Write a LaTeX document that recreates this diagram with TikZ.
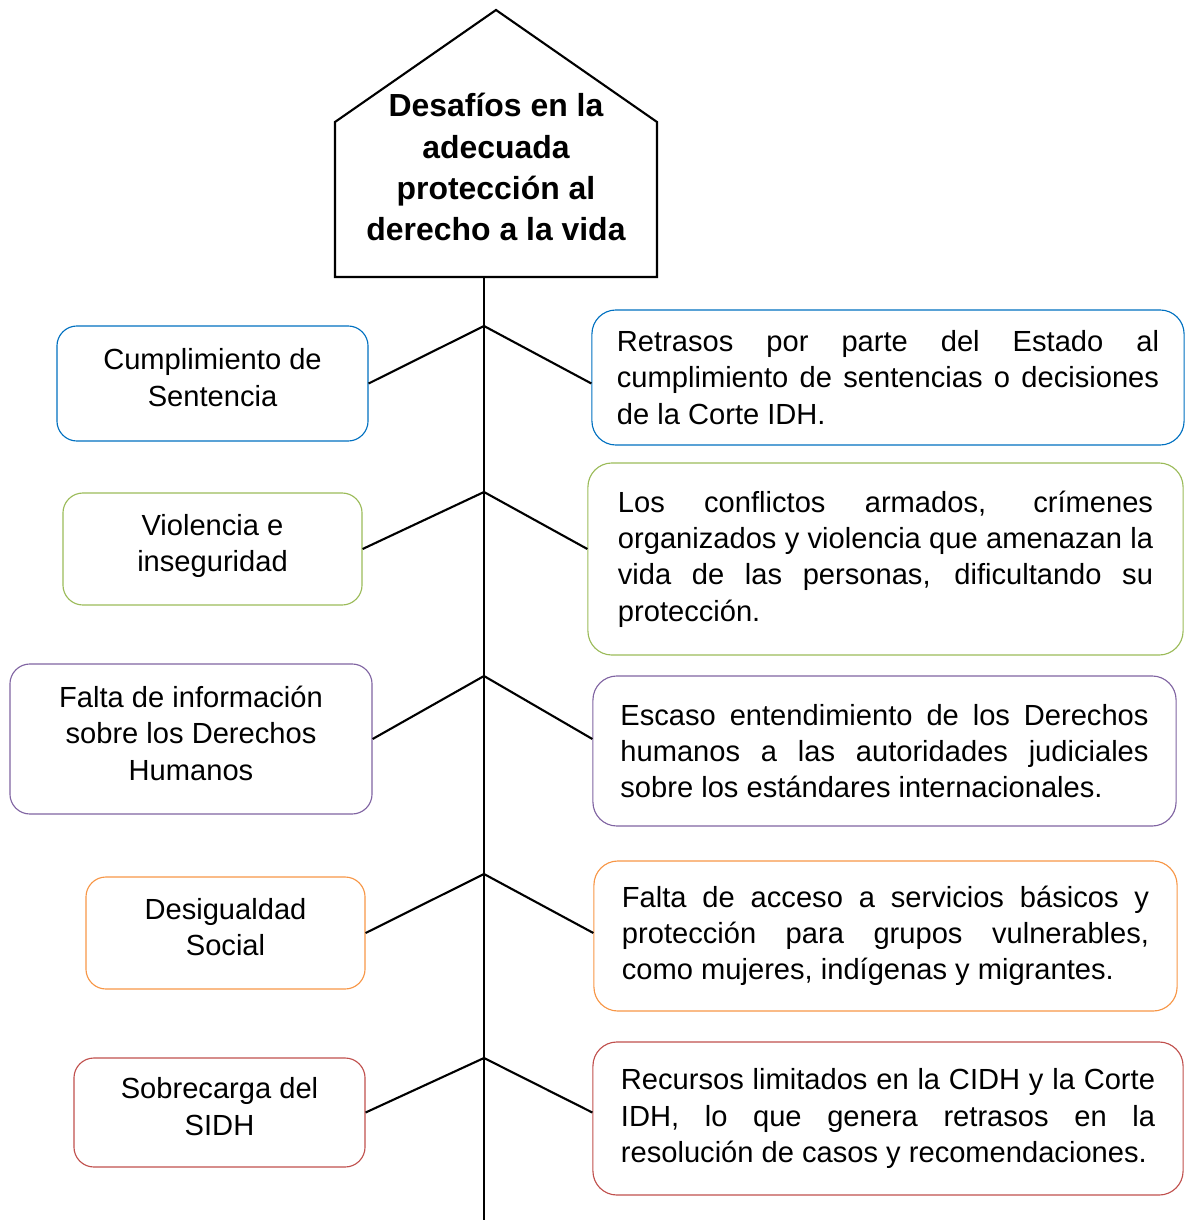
\documentclass[tikz,border=0pt]{standalone}
\usepackage{fontspec}
\setmainfont{Liberation Sans}
\usepackage{tikz}
\usetikzlibrary{calc}

\definecolor{boxblue}{HTML}{0070C0}
\definecolor{boxgreen}{HTML}{9BBB59}
\definecolor{boxpurple}{HTML}{8064A2}
\definecolor{boxorange}{HTML}{F79646}
\definecolor{boxred}{HTML}{C0504D}

\begin{document}
\begin{tikzpicture}[x=0.025cm, y=-0.025cm]

        % Box styles, left side is centered, right side is justified
        \tikzset{
            leftbox/.style={draw, rounded corners=0.5cm, line width=0.8pt,
                align=center, inner sep=0pt, text depth=0.3cm,
                font=\fontsize{20.7}{25.8}\selectfont},
            rightbox/.style={draw, rounded corners=0.6cm, line width=0.8pt,
                align=justify, inner sep=0pt,
                font=\fontsize{20.7}{25.8}\selectfont},
            branch/.style={line width=1.5pt}
        }

        \useasboundingbox (0, 0) rectangle (1187, 1220);

        % Title inside the house
        \draw[line width=1.5pt] (335, 277) -- (335, 122) -- (496, 10)
            -- (657, 122) -- (657, 277) -- cycle;
        \node[align=center, font=\bfseries\fontsize{22.7}{29.2}\selectfont]
            (title) at (496, 167)
            {Desafíos en la\\adecuada\\protección al\\derecho a la vida};

        % Spine and the points where the branches meet it
        \coordinate (top) at (484, 277);
        \coordinate (end) at (484, 1220);
        \draw[line width=2pt] (top) -- (end);

        \coordinate (j1) at (484, 326);
        \coordinate (j2) at (484, 492);
        \coordinate (j3) at (484, 676);
        \coordinate (j4) at (484, 874);
        \coordinate (j5) at (484, 1058);

        % Left boxes
        \node[leftbox, draw=boxblue, minimum width=7.775cm, minimum height=2.875cm]
            (lb1) at (212.5, 383.5) {Cumplimiento de\\Sentencia};
        \node[leftbox, draw=boxgreen, minimum width=7.475cm, minimum height=2.8cm]
            (lb2) at (212.5, 549) {Violencia e\\inseguridad};
        \node[leftbox, draw=boxpurple, minimum width=9.05cm, minimum height=3.75cm]
            (lb3) at (191, 739) {Falta de información\\sobre los Derechos\\Humanos};
        \node[leftbox, draw=boxorange, minimum width=6.975cm, minimum height=2.8cm]
            (lb4) at (225.5, 933) {Desigualdad\\Social};
        \node[leftbox, draw=boxred, minimum width=7.275cm, minimum height=2.725cm]
            (lb5) at (219.5, 1112.5) {Sobrecarga del\\SIDH};

        % Right boxes
        \node[rightbox, draw=boxblue, text width=13.55cm,
            minimum width=14.8cm, minimum height=3.375cm]
            (rb1) at (888, 377.5)
            {Retrasos por parte del Estado al\linebreak
             cumplimiento de sentencias o decisiones\linebreak
             de la Corte IDH.};
        \node[rightbox, draw=boxgreen, text width=13.375cm,
            minimum width=14.875cm, minimum height=4.8cm]
            (rb2) at (885.5, 559)
            {Los conflictos armados, crímenes\linebreak
             organizados y violencia que amenazan la\linebreak
             vida de las personas, dificultando su\linebreak
             protección.};
        \node[rightbox, draw=boxpurple, text width=13.2cm,
            minimum width=14.575cm, minimum height=3.75cm]
            (rb3) at (884.5, 751)
            {Escaso entendimiento de los Derechos\linebreak
             humanos a las autoridades judiciales\linebreak
             sobre los estándares internacionales.};
        \node[rightbox, draw=boxorange, text width=13.175cm,
            minimum width=14.575cm, minimum height=3.75cm]
            (rb4) at (885.5, 936)
            {Falta de acceso a servicios básicos y\linebreak
             protección para grupos vulnerables,\linebreak
             como mujeres, indígenas y migrantes.};
        \node[rightbox, draw=boxred, text width=13.35cm,
            minimum width=14.75cm, minimum height=3.825cm]
            (rb5) at (888, 1118.5)
            {Recursos limitados en la CIDH y la Corte\linebreak
             IDH, lo que genera retrasos en la\linebreak
             resolución de casos y recomendaciones.};

        % Branches from the spine to both sides
        \draw[branch] (lb1.east) -- (j1) -- (rb1.west |- lb1.east);
        \draw[branch] (lb2.east) -- (j2) -- (rb2.west |- lb2.east);
        \draw[branch] (lb3.east) -- (j3) -- (rb3.west |- lb3.east);
        \draw[branch] (lb4.east) -- (j4) -- (rb4.west |- lb4.east);
        \draw[branch] (lb5.east) -- (j5) -- (rb5.west |- lb5.east);

\end{tikzpicture}
\end{document}
